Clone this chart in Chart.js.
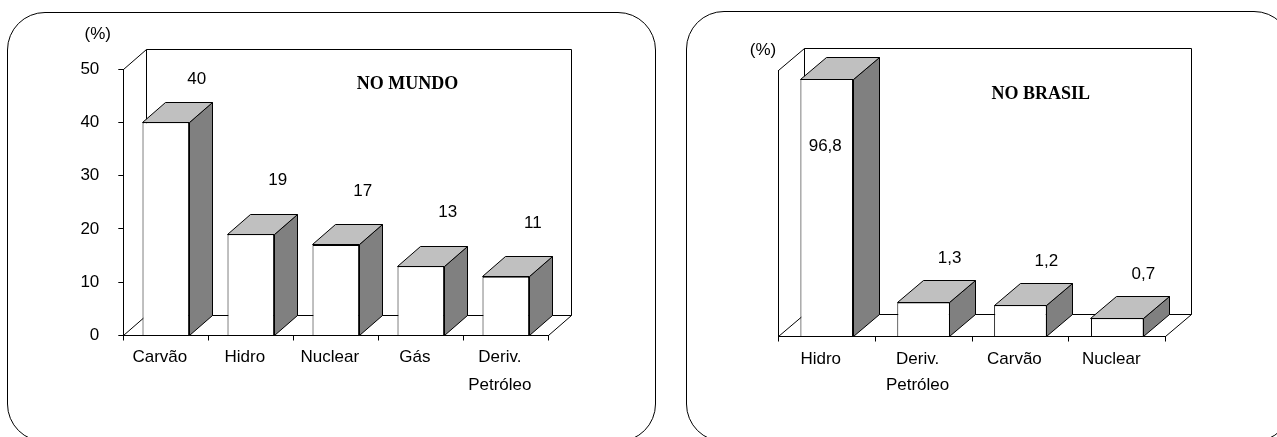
<!DOCTYPE html>
<html><head><meta charset="utf-8">
<script src="https://cdn.jsdelivr.net/npm/chart.js@4.4.1/dist/chart.umd.min.js"></script>
<style>
html,body{margin:0;padding:0;background:#fff;width:1277px;height:437px;overflow:hidden;position:relative}
.box{position:absolute;border:1px solid #000;border-radius:38px;box-sizing:border-box}
#boxL{left:7px;top:12px;width:649px;height:430px}
#boxR{left:686px;top:11px;width:606px;height:431px}
canvas{position:absolute;top:0}
#cL{left:0}
#cR{left:660px}
</style></head><body>
<div class="box" id="boxL"></div><div class="box" id="boxR"></div>
<canvas id="cL" width="660" height="437"></canvas>
<canvas id="cR" width="617" height="437"></canvas>
<script>
// ---- data ----
const worldCategories = ['Carvão', 'Hidro', 'Nuclear', 'Gás', ['Deriv.', 'Petróleo']];
const worldValues = [40, 19, 17, 13, 11];
const worldValueLabels = ['40', '19', '17', '13', '11'];
const worldTicks = [0, 10, 20, 30, 40, 50];
const worldTitle = 'NO MUNDO';

const brazilCategories = ['Hidro', ['Deriv.', 'Petróleo'], 'Carvão', 'Nuclear'];
const brazilValues = [96.8, 1.3, 1.2, 0.7];
const brazilValueLabels = ['96,8', '1,3', '1,2', '0,7'];
const brazilTitle = 'NO BRASIL';

const unitLabel = '(%)';

// ---- broken (compressed) value axis for the Brazil chart ----
const BREAK_AT = 2;
const COMPRESS = 0.08286;
function squash(v) { return v <= BREAK_AT ? v : BREAK_AT + (v - BREAK_AT) * COMPRESS; }
class BrokenLinearScale extends Chart.LinearScale {
  getPixelForValue(value) { return super.getPixelForValue(value == null ? value : squash(value)); }
}
BrokenLinearScale.id = 'brokenLinear';
BrokenLinearScale.defaults = Chart.LinearScale.defaults;
Chart.register(BrokenLinearScale);

const SANS = "'Liberation Sans', Arial, sans-serif";
const SERIF = "'Liberation Serif', 'Times New Roman', serif";
const h = v => Math.round(v - 0.5) + 0.5;

const box3d = {
  id: 'box3d',
  beforeDraw(chart, args, o) {
    const {ctx, chartArea: {left, right, top, bottom}} = chart;
    const dx = o.dx, dy = o.dy;
    ctx.save();
    ctx.strokeStyle = '#000'; ctx.lineWidth = 1;
    ctx.beginPath();
    // back wall
    ctx.moveTo(h(left + dx), h(bottom + dy)); ctx.lineTo(h(left + dx), h(top + dy));
    ctx.lineTo(h(right + dx), h(top + dy)); ctx.lineTo(h(right + dx), h(bottom + dy));
    ctx.lineTo(h(left + dx), h(bottom + dy));
    // left wall diagonals
    ctx.moveTo(h(left), h(top)); ctx.lineTo(h(left + dx), h(top + dy));
    ctx.moveTo(h(left), h(bottom)); ctx.lineTo(h(left + dx), h(bottom + dy));
    // floor right edge
    ctx.moveTo(h(right), h(bottom)); ctx.lineTo(h(right + dx), h(bottom + dy));
    ctx.stroke();
    ctx.restore();
  },
  afterDatasetsDraw(chart, args, o) {
    const {ctx, chartArea} = chart;
    const dx = o.dx, dy = o.dy;
    const meta = chart.getDatasetMeta(0);
    ctx.save();
    ctx.strokeStyle = '#000'; ctx.lineWidth = 1; ctx.lineJoin = 'miter';
    meta.data.forEach((bar, i) => {
      const p = bar.getProps(['x', 'y', 'base', 'width'], true);
      const x1 = h(p.x - p.width / 2), x2 = h(p.x + p.width / 2);
      const yt = h(p.y), yb = h(p.base);
      // side face
      ctx.beginPath();
      ctx.moveTo(x2, yt); ctx.lineTo(x2 + dx, yt + dy); ctx.lineTo(x2 + dx, yb + dy); ctx.lineTo(x2, yb); ctx.closePath();
      ctx.fillStyle = '#808080'; ctx.fill(); ctx.stroke();
      // top face
      ctx.beginPath();
      ctx.moveTo(x1, yt); ctx.lineTo(x2, yt); ctx.lineTo(x2 + dx, yt + dy); ctx.lineTo(x1 + dx, yt + dy); ctx.closePath();
      ctx.fillStyle = '#C0C0C0'; ctx.fill(); ctx.stroke();
    });
    // value labels
    ctx.fillStyle = '#000';
    ctx.font = '17px ' + SANS;
    ctx.textAlign = 'center'; ctx.textBaseline = 'middle';
    meta.data.forEach((bar, i) => {
      const p = bar.getProps(['x', 'y'], true);
      let lx = p.x + o.labelDx, ly = p.y - o.labelLift;
      if (ly < chartArea.top + o.labelMinTop) {
        if (o.inside) { lx = p.x - 1.5; ly = p.y + o.insideDrop; }
        else { ly = chartArea.top + o.labelMinTop; lx = p.x + o.labelDx + 4; }
      }
      ctx.fillText(o.valueLabels[i], lx, ly);
    });
    ctx.restore();
  },
  afterDraw(chart, args, o) {
    const {ctx} = chart;
    ctx.save();
    ctx.fillStyle = '#000'; ctx.textAlign = 'center'; ctx.textBaseline = 'middle';
    ctx.font = '17px ' + SANS;
    ctx.fillText(unitLabel, o.unitPos[0], o.unitPos[1]);
    ctx.font = 'bold 18px ' + SERIF;
    ctx.fillText(o.title, o.titlePos[0], o.titlePos[1]);
    ctx.restore();
  }
};

function xScale(lineH, pad) {
  return {
    grid: {display: true, drawOnChartArea: false, drawTicks: true, tickLength: 5, color: '#000', offset: true},
    border: {display: true, color: '#000', width: 1},
    ticks: {color: '#000', font: {family: SANS, size: 17, lineHeight: lineH + 'px'}, padding: pad,
            labelOffset: -6, maxRotation: 0, minRotation: 0, autoSkip: false},
    afterFit(s) { s.height = 80; }
  };
}

new Chart(document.getElementById('cL'), {
  type: 'bar',
  data: {labels: worldCategories, datasets: [{data: worldValues, backgroundColor: '#fff', borderColor: '#000',
         borderWidth: 1, barPercentage: 0.548, categoryPercentage: 1}]},
  options: {
    responsive: false, animation: false, devicePixelRatio: 1,
    layout: {padding: {left: 0, top: 69, right: 111.7, bottom: 21.5}},
    plugins: {legend: {display: false}, tooltip: {enabled: false},
      box3d: {dx: 23, dy: -20, labelDx: 27, labelLift: 54, labelMinTop: 10, inside: false, insideDrop: 0,
              valueLabels: worldValueLabels, title: worldTitle, titlePos: [407.5, 84], unitPos: [97.7, 34.3]}},
    scales: {
      x: xScale(28, 3),
      y: {
        min: 0, max: 50,
        afterBuildTicks(s) { s.ticks = worldTicks.map(v => ({value: v})); },
        grid: {display: true, drawOnChartArea: false, drawTicks: true, tickLength: 5, color: '#000'},
        border: {display: true, color: '#000', width: 1},
        ticks: {color: '#000', font: {family: SANS, size: 17}, padding: 19},
        afterFit(s) { s.width = 123.3; }
      }
    }
  },
  plugins: [box3d]
});

new Chart(document.getElementById('cR'), {
  type: 'bar',
  data: {labels: brazilCategories, datasets: [{data: brazilValues, backgroundColor: '#fff', borderColor: '#000',
         borderWidth: 1, barPercentage: 0.543, categoryPercentage: 1}]},
  options: {
    responsive: false, animation: false, devicePixelRatio: 1,
    layout: {padding: {left: 0, top: 70, right: 111.3, bottom: 20.5}},
    plugins: {legend: {display: false}, tooltip: {enabled: false},
      box3d: {dx: 26, dy: -22, labelDx: 26, labelLift: 44, labelMinTop: 0, inside: true, insideDrop: 67,
              valueLabels: brazilValueLabels, title: brazilTitle, titlePos: [380.8, 94], unitPos: [103, 50.7]}},
    scales: {
      x: xScale(26, 5),
      y: {
        type: 'brokenLinear', min: 0, max: 10.2,
        grid: {display: true, drawOnChartArea: false, drawTicks: false, color: '#000'},
        border: {display: true, color: '#000', width: 1},
        ticks: {display: false},
        afterFit(s) { s.width = 118.3; }
      }
    }
  },
  plugins: [box3d]
});
</script>
</body></html>
